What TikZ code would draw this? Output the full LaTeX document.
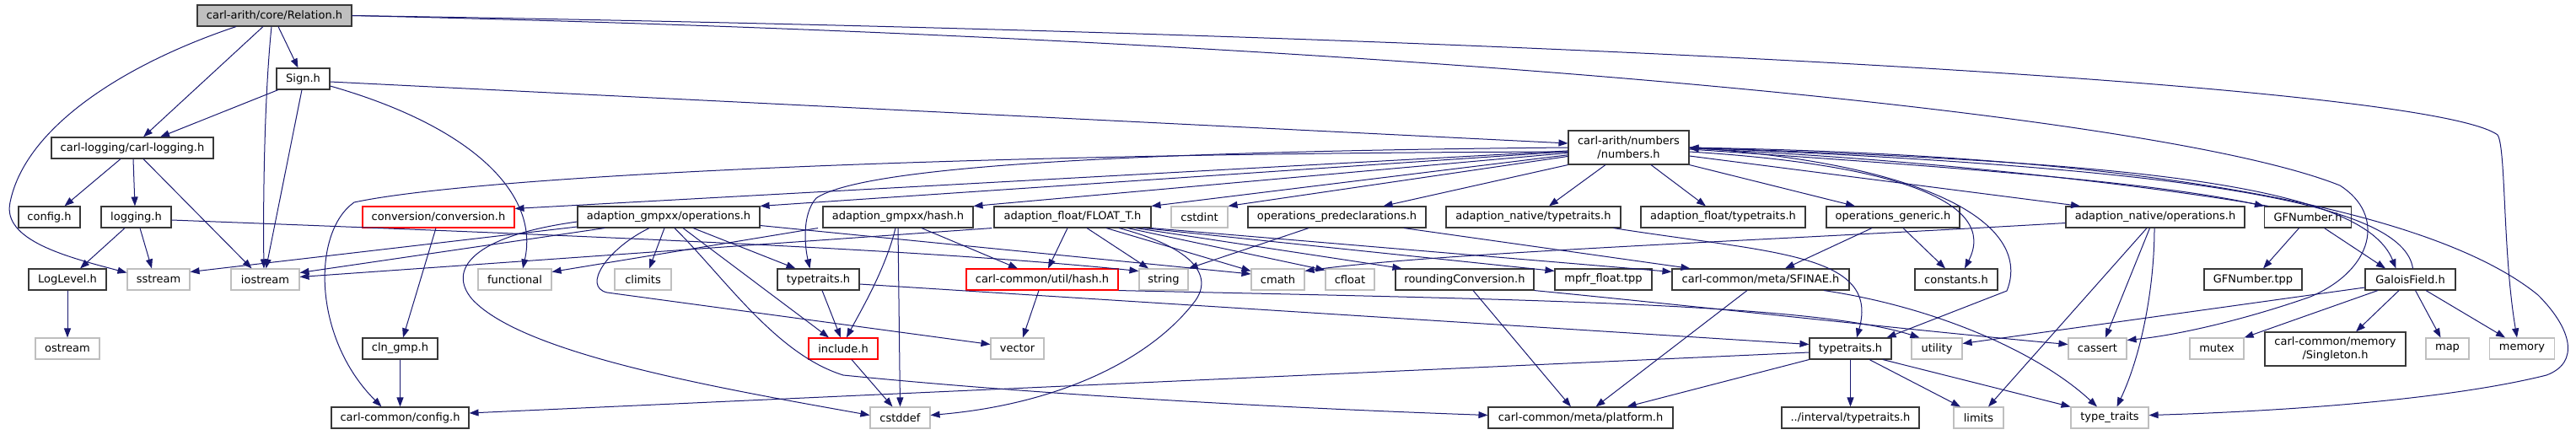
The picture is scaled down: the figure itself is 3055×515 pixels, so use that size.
\documentclass[tikz,border=0pt]{standalone}
\usepackage{fontspec}
\setmainfont{DejaVu Sans}
\usetikzlibrary{arrows.meta}
\definecolor{edgeblue}{HTML}{191970}
\definecolor{boxline}{HTML}{383838}
\definecolor{sysline}{HTML}{BFBFBF}
\definecolor{relfill}{HTML}{BFBFBF}
\newcommand\nodefont{\fontsize{13pt}{15.5pt}\selectfont}
\begin{document}
\begin{tikzpicture}[x=1pt,y=-1pt,
  nb/.style={draw=boxline, line width=1.1pt, fill=white, minimum height=25pt, inner sep=0pt, font=\nodefont, text=black, align=center},
  sys/.style={nb, draw=sysline},
  rednode/.style={nb, draw=red},
  dep/.style={draw=edgeblue, line width=1pt, -{Triangle[length=11pt,width=8pt]}}]
\useasboundingbox (0,0) rectangle (3055,515);
% row 0-2
\node[nb, fill=relfill, minimum width=183pt] (rel) at (325.5,18.5) {carl-arith/core/Relation.h};
\node[nb, minimum width=63pt] (sign) at (359.5,93.5) {Sign.h};
\node[nb, minimum width=192pt] (clog) at (157,175.5) {carl-logging/carl-logging.h};
\node[nb, minimum width=143pt, minimum height=40pt] (num) at (1931.5,175) {carl-arith/numbers\\/numbers.h};
% row 3
\node[nb, minimum width=73pt] (cfg) at (58.5,257.5) {config.h};
\node[nb, minimum width=83pt] (logg) at (161.5,257.5) {logging.h};
\node[rednode, minimum width=180pt] (conv) at (520,257.5) {conversion/conversion.h};
\node[nb, minimum width=216pt] (gops) at (793,257.5) {adaption\_gmpxx/operations.h};
\node[nb, minimum width=178pt] (ghash) at (1065,257.5) {adaption\_gmpxx/hash.h};
\node[nb, minimum width=186pt] (flt) at (1272,257.5) {adaption\_float/FLOAT\_T.h};
\node[sys, minimum width=67pt] (cstdint) at (1422.5,257.5) {cstdint};
\node[nb, minimum width=211pt] (opsp) at (1585.5,257.5) {operations\_predeclarations.h};
\node[nb, minimum width=207pt] (ntt) at (1818.5,257.5) {adaption\_native/typetraits.h};
\node[nb, minimum width=195pt] (ftt) at (2043.5,257.5) {adaption\_float/typetraits.h};
\node[nb, minimum width=158pt] (opsg) at (2245,257.5) {operations\_generic.h};
\node[nb, minimum width=212pt] (nops) at (2556,257.5) {adaption\_native/operations.h};
\node[nb, minimum width=103pt] (gfn) at (2737,257.5) {GFNumber.h};
% row 4
\node[nb, minimum width=92pt] (loglvl) at (80,331.5) {LogLevel.h};
\node[sys, minimum width=74pt] (sstr) at (188,331.5) {sstream};
\node[sys, minimum width=81pt] (iostr) at (314.5,331.5) {iostream};
\node[sys, minimum width=87pt] (func) at (610.5,331.5) {functional};
\node[sys, minimum width=67pt] (clim) at (762.5,331.5) {climits};
\node[nb, minimum width=97pt] (gtt) at (970.5,331.5) {typetraits.h};
\node[rednode, minimum width=180pt] (uhash) at (1236,331.5) {carl-common/util/hash.h};
\node[sys, minimum width=58pt] (str) at (1380,331.5) {string};
\node[sys, minimum width=63pt] (cmath) at (1515.5,331.5) {cmath};
\node[sys, minimum width=58pt] (cfloat) at (1601,331.5) {cfloat};
\node[nb, minimum width=164pt] (round) at (1737,331.5) {roundingConversion.h};
\node[nb, minimum width=115pt] (mpfr) at (1901.5,331.5) {mpfr\_float.tpp};
\node[nb, minimum width=210pt] (sfinae) at (2088,331.5) {carl-common/meta/SFINAE.h};
\node[nb, minimum width=98pt] (const) at (2320,331.5) {constants.h};
\node[nb, minimum width=116pt] (gftpp) at (2672,331.5) {GFNumber.tpp};
\node[nb, minimum width=107pt] (gf) at (2858.5,331.5) {GaloisField.h};
% row 5
\node[sys, minimum width=76pt] (ostr) at (80,413.5) {ostream};
\node[nb, minimum width=89pt] (cln) at (474.5,413.5) {cln\_gmp.h};
\node[rednode, minimum width=82pt] (incl) at (1000,413.5) {include.h};
\node[sys, minimum width=63pt] (vec) at (1206.5,413.5) {vector};
\node[nb, minimum width=97pt] (tt) at (2194.5,413.5) {typetraits.h};
\node[sys, minimum width=60pt] (util) at (2297,413.5) {utility};
\node[sys, minimum width=69pt] (cassert) at (2487.5,413.5) {cassert};
\node[sys, minimum width=64pt] (mutex) at (2629,413.5) {mutex};
\node[nb, minimum width=167pt, minimum height=40pt] (single) at (2769.5,414) {carl-common/memory\\/Singleton.h};
\node[sys, minimum width=51pt] (map) at (2902.5,413.5) {map};
\node[sys, minimum width=77pt] (mem) at (2991,413.5) {memory};
% row 6
\node[nb, minimum width=163pt] (ccfg) at (474.5,495.5) {carl-common/config.h};
\node[sys, minimum width=71pt] (cstddef) at (1067.5,495.5) {cstddef};
\node[nb, minimum width=219pt] (plat) at (1874.5,495.5) {carl-common/meta/platform.h};
\node[nb, minimum width=163pt] (itt) at (2194.5,495.5) {../interval/typetraits.h};
\node[sys, minimum width=59pt] (limits) at (2346.5,495.5) {limits};
\node[sys, minimum width=92pt] (typetr) at (2502,495.5) {type\_traits};

% Relation.h
\draw[dep] ([xshift=4.5pt]rel.south) -- ([xshift=-6pt]sign.north);
\draw[dep] ([xshift=-13.5pt]rel.south) -- ([xshift=13pt]clog.north);
\draw[dep] ([xshift=-3.5pt]rel.south) .. controls (313,120) and (312,250) .. ([xshift=-1.5pt]iostr.north);
\draw[dep] ([xshift=-45.5pt]rel.south) .. controls (150,75) and (30,150) .. (12,240) .. controls (2,285) and (80,305) .. ([yshift=8pt]sstr.west);
\draw[dep] (rel.east) .. controls (1600,45) and (2550,130) .. (2775,220) .. controls (2830,255) and (2815,320) .. (2740,352) .. controls (2660,380) and (2580,398) .. ([yshift=-3pt]cassert.north east);
\draw[dep] (rel.east) .. controls (1800,40) and (2880,100) .. (2962,160) .. controls (2972,175) and (2968,300) .. ([xshift=-6pt]mem.north);
% Sign.h
\draw[dep] ([xshift=-29.5pt]sign.south) -- ([xshift=33pt]clog.north);
\draw[dep] ([xshift=-1.5pt]sign.south) -- ([xshift=1pt]iostr.north);
\draw[dep] ([yshift=-8.5pt]sign.east) .. controls (560,150) and (640,230) .. ([xshift=9.5pt]func.north);
\draw[dep] ([yshift=-3.5pt]sign.east) -- ([yshift=5pt]num.west);
% carl-logging
\draw[dep] ([xshift=-14pt]clog.south) -- ([xshift=18pt]cfg.north);
\draw[dep] ([xshift=1pt]clog.south) -- ([xshift=-1.5pt]logg.north);
\draw[dep] ([xshift=13pt]clog.south) -- ([xshift=-16pt]iostr.north);
\draw[dep] ([xshift=-13.5pt]logg.south) -- ([xshift=15pt]loglvl.north);
\draw[dep] ([xshift=4.5pt]logg.south) -- ([xshift=-8pt]sstr.north);
\draw[dep] ([yshift=-3.5pt]logg.east) .. controls (700,280) and (1100,296) .. ([yshift=10pt]str.west);
\draw[dep] (loglvl) -- (ostr);
% conversion
\draw[dep] ([xshift=-3pt]conv.south) -- ([xshift=3.5pt]cln.north);
\draw[dep] (cln) -- (ccfg);
% numbers.h
\draw[dep] ([yshift=-5pt]num.west) .. controls (1100,182) and (560,210) .. (420,240) .. controls (370,275) and (370,400) .. ([xshift=-22pt]ccfg.north);
\draw[dep] (num) -- ([yshift=-3pt]conv.north east);
\draw[dep] (num) -- (gops.north east);
\draw[dep] (num.west) .. controls (1300,180) and (1020,200) .. (968,235) .. controls (950,255) and (955,295) .. ([xshift=-10pt]gtt.north);
\draw[dep] (num) -- (ghash.north east);
\draw[dep] (num) -- (flt.north east);
\draw[dep] (num) -- (cstdint.north east);
\draw[dep] (num.south west) -- ([xshift=55pt]opsp.north);
\draw[dep] ([xshift=-27.5pt]num.south) -- ([xshift=18.5pt]ntt.north);
\draw[dep] ([xshift=26.5pt]num.south) -- ([xshift=-20.5pt]ftt.north);
\draw[dep] (num.south east) -- ([xshift=-45pt]opsg.north);
\draw[dep] ([yshift=-10pt]num.east) -- ([xshift=-89pt]nops.north);
\draw[dep] ([yshift=-5pt]num.east) .. controls (2250,195) and (2370,240) .. ([xshift=10pt]const.north);
\draw[dep] (num.east) .. controls (2300,195) and (2410,270) .. (2380,345) -- ([xshift=-6pt]tt.north east);
\draw[dep] (num.east) .. controls (2600,185) and (2900,260) .. (3010,350) .. controls (3050,390) and (3060,430) .. (3020,445) .. controls (2900,475) and (2700,488) .. ([yshift=3pt]typetr.east);
\draw[dep] ([yshift=-2pt]num.east) .. controls (2300,197) and (2550,215) .. (gfn.north west);
\draw[dep] ([xshift=5pt]gfn.north west) .. controls (2560,222) and (2300,190) .. ([yshift=-1pt]num.east);
\draw[dep] (num.east) .. controls (2500,192) and (2800,215) .. ([xshift=-17pt]gf.north);
\draw[dep] ([xshift=3pt]gf.north) .. controls (2850,240) and (2600,200) .. (num.east);
% GFNumber / GaloisField
\draw[dep] ([xshift=-10.5pt]gfn.south) -- ([xshift=12pt]gftpp.north);
\draw[dep] ([xshift=19.5pt]gfn.south) -- ([xshift=-29.5pt]gf.north);
\draw[dep] ([yshift=-9.5pt]gf.west) -- ([yshift=6pt]util.east);
\draw[dep] ([xshift=-38.5pt]gf.south) -- (mutex.north east);
\draw[dep] ([xshift=-13.5pt]gf.south) -- ([xshift=24.5pt]single.north);
\draw[dep] ([xshift=6pt]gf.south) -- ([xshift=-8pt]map.north);
\draw[dep] ([xshift=18.5pt]gf.south) -- ([xshift=-20pt]mem.north);
% adaption_native/operations.h
\draw[dep] ([yshift=-7pt]nops.west) .. controls (2100,285) and (1700,300) .. ([yshift=-3pt]cmath.north east);
\draw[dep] ([xshift=-10pt]nops.south) -- ([xshift=11.5pt]limits.north);
\draw[dep] ([xshift=-6.5pt]nops.south) -- ([xshift=9.5pt]cassert.north);
\draw[dep] ([xshift=-1pt]nops.south) .. controls (2555,340) and (2540,420) .. ([xshift=8.5pt]typetr.north);
% operations_generic, native typetraits, predeclarations
\draw[dep] ([xshift=-25pt]opsg.south) -- ([xshift=29pt]sfinae.north);
\draw[dep] ([xshift=12pt]opsg.south) -- ([xshift=-13pt]const.north);
\draw[dep] ([xshift=-9pt]ntt.south east) .. controls (2100,300) and (2230,300) .. ([xshift=7.5pt]tt.north);
\draw[dep] ([xshift=-33.5pt]opsp.south) -- (str.north east);
\draw[dep] ([xshift=79.5pt]opsp.south) -- ([xshift=22pt]sfinae.north west);
% FLOAT_T.h
\draw[dep] ([xshift=-6pt]flt.south) -- ([xshift=7pt]uhash.north);
\draw[dep] ([xshift=17pt]flt.south) -- ([xshift=-18pt]str.north);
\draw[dep] ([xshift=40pt]flt.south) -- ([yshift=-3pt]cmath.north west);
\draw[dep] ([xshift=65pt]flt.south) -- ([yshift=-2pt]cfloat.north west);
\draw[dep] ([xshift=75pt]flt.south) -- ([xshift=8pt]round.north west);
\draw[dep] ([xshift=84pt]flt.south) -- ([yshift=-3pt]mpfr.north west);
\draw[dep] (flt.south east) -- ([yshift=-4pt]sfinae.north west);
\draw[dep] ([xshift=-2pt]flt.south west) -- ([yshift=3pt]iostr.east);
\draw[dep] ([xshift=55pt]flt.south) .. controls (1420,295) and (1440,330) .. (1415,360) .. controls (1360,430) and (1250,480) .. ([yshift=3pt]cstddef.east);
% adaption_gmpxx/operations.h
\draw[dep] ([yshift=-11.5pt]gops.west) -- ([yshift=9pt]sstr.east);
\draw[dep] ([xshift=-76pt]gops.south) -- ([yshift=8pt]iostr.east);
\draw[dep] ([yshift=-5.5pt]gops.west) .. controls (560,280) and (530,320) .. (560,355) .. controls (620,420) and (850,460) .. ([yshift=3pt]cstddef.west);
\draw[dep] ([xshift=-5pt]gops.south) -- ([xshift=7.5pt]clim.north);
\draw[dep] ([xshift=-23pt]gops.south) .. controls (720,295) and (690,340) .. (720,347) -- ([yshift=5pt]vec.west);
\draw[dep] ([xshift=17pt]gops.south) -- ([xshift=-17pt]incl.north);
\draw[dep] ([xshift=29pt]gops.south) -- ([xshift=-27pt]gtt.north);
\draw[dep] ([xshift=7pt]gops.south) .. controls (860,330) and (920,420) .. (1000,445) .. controls (1250,470) and (1550,485) .. ([yshift=3pt]plat.west);
\draw[dep] ([yshift=-10pt]gops.east) -- ([yshift=6.5pt]cmath.west);
% adaption_gmpxx/hash.h
\draw[dep] ([xshift=-95pt]ghash.south) -- ([yshift=9pt]func.east);
\draw[dep] ([xshift=-3pt]ghash.south) .. controls (1050,320) and (1020,370) .. ([xshift=4pt]incl.north);
\draw[dep] (ghash.south) -- (cstddef.north);
\draw[dep] ([xshift=28pt]ghash.south) -- ([xshift=-29pt]uhash.north);
% typetraits (gmpxx), util/hash, include
\draw[dep] ([xshift=4.5pt]gtt.south) -- ([xshift=-3pt]incl.north);
\draw[dep] ([yshift=-5.5pt]gtt.east) -- ([yshift=5pt]tt.west);
\draw[dep] ([xshift=-4pt]uhash.south) -- ([xshift=6.5pt]vec.north);
\draw[dep] (uhash.south east) .. controls (1800,355) and (2150,360) .. ([xshift=10pt]util.north west);
\draw[dep] ([xshift=10pt]incl.south) -- ([xshift=-9pt]cstddef.north);
% roundingConversion, SFINAE
\draw[dep] ([xshift=10pt]round.south) -- ([xshift=-11.5pt]plat.north);
\draw[dep] (round.south east) .. controls (2000,362) and (2300,395) .. ([yshift=5pt]cassert.west);
\draw[dep] ([xshift=-16pt]sfinae.south) -- ([xshift=18pt]plat.north);
\draw[dep] ([xshift=75pt]sfinae.south) .. controls (2300,365) and (2420,420) .. ([xshift=-15pt]typetr.north);
% typetraits.h (lower)
\draw[dep] ([yshift=-4.5pt]tt.west) -- ([yshift=5.5pt]ccfg.east);
\draw[dep] (tt.south west) -- ([xshift=55pt]plat.north);
\draw[dep] (tt) -- (itt);
\draw[dep] ([xshift=22.5pt]tt.south) -- ([xshift=-21.5pt]limits.north);
\draw[dep] ([xshift=38.5pt]tt.south) -- (typetr.north west);
\end{tikzpicture}
\end{document}
